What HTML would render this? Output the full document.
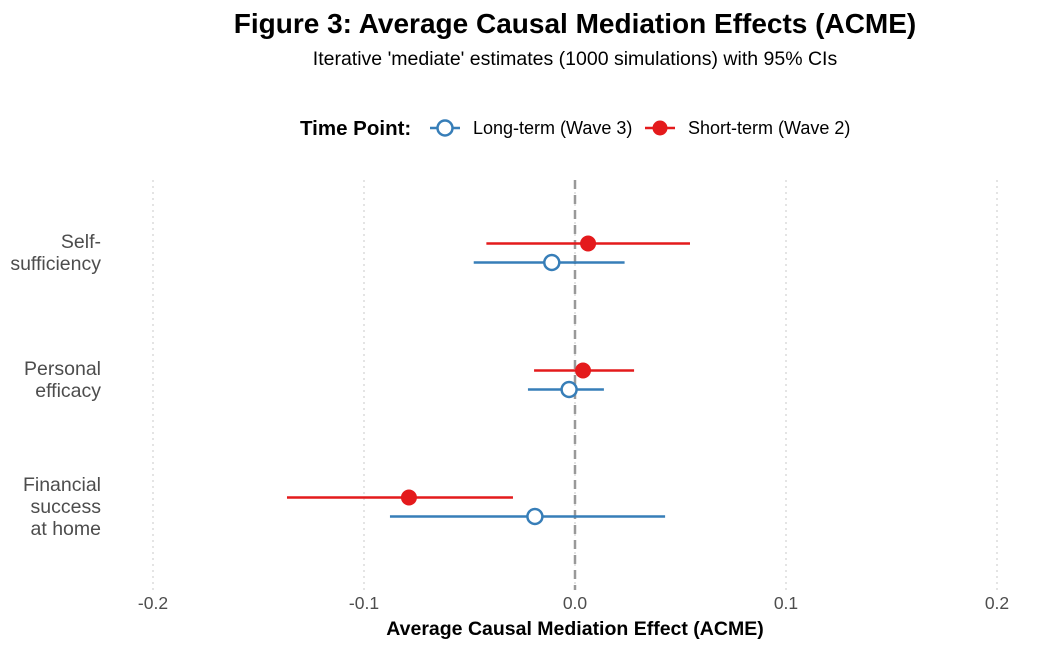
<!DOCTYPE html>
<html><head><meta charset="utf-8"><style>
body{margin:0;background:#fff;}
svg{font-family:"Liberation Sans",sans-serif;display:block;}
</style></head><body>
<svg id="chart" width="1050" height="648" xmlns="http://www.w3.org/2000/svg">
<text x="575" y="33" text-anchor="middle" font-size="28" font-weight="bold" fill="#000">Figure 3: Average Causal Mediation Effects (ACME)</text>
<text x="575" y="65" text-anchor="middle" font-size="19.5" fill="#000">Iterative 'mediate' estimates (1000 simulations) with 95% CIs</text>
<g>
<text x="300" y="135" font-size="20.5" font-weight="bold">Time Point:</text>
<g>
<line x1="430" y1="128" x2="460" y2="128" stroke="#377eb8" stroke-width="2.5"/>
<circle cx="445" cy="128" r="7.5" fill="#fff" stroke="#377eb8" stroke-width="2.5"/>
<text x="473" y="134" font-size="18">Long-term (Wave 3)</text></g>
<g>
<line x1="645" y1="128" x2="675" y2="128" stroke="#e41a1c" stroke-width="2.5"/>
<circle cx="660" cy="128" r="7.5" fill="#e41a1c"/>
<text x="688" y="134" font-size="18">Short-term (Wave 2)</text></g>
</g>
<g id="grid"></g><g id="marks"></g><g id="axes"></g>
<text x="575" y="635" text-anchor="middle" font-size="19.5" font-weight="bold">Average Causal Mediation Effect (ACME)</text>
</svg>
<script>
const categories=[["Self-","sufficiency"],["Personal","efficacy"],["Financial","success","at home"]];
const ticks=[-0.2,-0.1,0.0,0.1,0.2];
const tickLabels=["-0.2","-0.1","0.0","0.1","0.2"];
const shortEst=[0.0062,0.0038,-0.0787];
const shortLo=[-0.042,-0.0194,-0.1365];
const shortHi=[0.0545,0.028,-0.0294];
const longEst=[-0.011,-0.0028,-0.019];
const longLo=[-0.048,-0.0223,-0.0877];
const longHi=[0.0235,0.0137,0.0427];
const NS="http://www.w3.org/2000/svg";
const x=v=>575+v*2110;
const y=i=>253+i*127;
function mk(t,a,p){const e=document.createElementNS(NS,t);for(const k in a)e.setAttribute(k,a[k]);p.appendChild(e);return e;}
const grid=document.getElementById('grid'),marks=document.getElementById('marks'),axes=document.getElementById('axes');
ticks.forEach((t,i)=>{
 const l=mk('line',{x1:x(t),x2:x(t),y1:180,y2:590,stroke:'#dcdcdc','stroke-width':1.5,'stroke-dasharray':'2,4'},grid);
 
 
 const tx=mk('text',{x:x(t),y:609,'text-anchor':'middle','font-size':17.5,fill:'#4d4d4d'},axes);
 tx.textContent=tickLabels[i];
 
 
});
const z=mk('line',{x1:x(0),x2:x(0),y1:180,y2:590,stroke:'#999','stroke-width':2.5,'stroke-dasharray':'9,6'},grid);


categories.forEach((c,i)=>{
 const n=c.length,cy=y(i)+6-(n-1)*11;
 const t=mk('text',{x:101,'text-anchor':'end','font-size':19.5,fill:'#4d4d4d'},axes);
 
 
 c.forEach((s,j)=>{const ts=mk('tspan',{x:101,y:cy+j*22},t);ts.textContent=s;});
 const yl=y(i)+9.5,ys=y(i)-9.5;
 const gl=mk('g',{},marks);
 
 
 mk('line',{x1:x(longLo[i]),x2:x(longHi[i]),y1:yl,y2:yl,stroke:'#377eb8','stroke-width':2.5},gl);
 mk('circle',{cx:x(longEst[i]),cy:yl,r:7.5,fill:'#fff',stroke:'#377eb8','stroke-width':2.5},gl);
 const gs=mk('g',{},marks);
 
 
 mk('line',{x1:x(shortLo[i]),x2:x(shortHi[i]),y1:ys,y2:ys,stroke:'#e41a1c','stroke-width':2.5},gs);
 mk('circle',{cx:x(shortEst[i]),cy:ys,r:8,fill:'#e41a1c'},gs);
});
</script>
</body></html>
